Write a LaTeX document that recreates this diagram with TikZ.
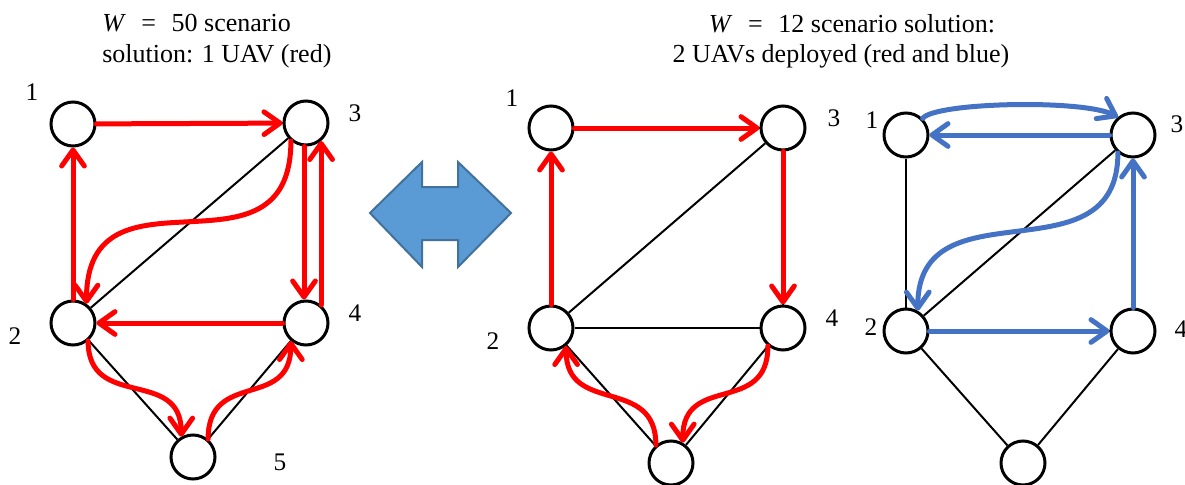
\documentclass[tikz,border=0pt]{standalone}
\usepackage{fontspec}
\setmainfont{Liberation Serif}
\usetikzlibrary{arrows.meta}
\definecolor{uavred}{RGB}{255,0,0}
\definecolor{uavblue}{RGB}{68,114,196}
\definecolor{arrfill}{RGB}{91,155,213}
\definecolor{arrdraw}{RGB}{65,113,156}
\begin{document}
\begin{tikzpicture}[x=0.75pt,y=-0.75pt,
 vtx/.style={circle,draw=black,line width=2.25pt,minimum size=33pt,inner sep=0pt,fill=white},
 edge/.style={draw=black,line width=1.5pt},
 route/.style={line width=3.75pt,line cap=round,-{Straight Barb[length=12pt,width=17pt,round]}},
 rt/.style={route,draw=uavred},
 bt/.style={route,draw=uavblue},
 lbl/.style={inner sep=0pt,font=\fontsize{19}{23}\selectfont},
 ttl/.style={inner sep=0pt,font=\fontsize{19.5}{23}\selectfont}]
\useasboundingbox (0,0) rectangle (1185,485);
% titles
\node[ttl,anchor=base west] (t1a) at (102,32) {\textit{W}\hspace{0.6em}=\hspace{0.6em}50 scenario};
\node[ttl,anchor=base west] (t1b) at (102,63) {solution: 1 UAV (red)};
\node[ttl,anchor=base] (t2a) at (852,33) {\textit{W}\hspace{0.6em}=\hspace{0.6em}12 scenario solution:};
\node[ttl,anchor=base] (t2b) at (841,63) {2 UAVs deployed (red and blue)};
% graph 1
\node[vtx] (g1n1) at (73,124) {};
\node[vtx] (g1n3) at (306,123) {};
\node[vtx] (g1n2) at (73,323) {};
\node[vtx] (g1n4) at (306,323) {};
\node[vtx] (g1n5) at (193,457) {};
\node[lbl] (g1l1) at (32,92) {1};
\node[lbl] (g1l3) at (355,113) {3};
\node[lbl] (g1l2) at (15,336) {2};
\node[lbl] (g1l4) at (355,313) {4};
\node[lbl] (g1l5) at (280,462) {5};
% graph 2
\node[vtx] (g2n1) at (551,128) {};
\node[vtx] (g2n3) at (783,128) {};
\node[vtx] (g2n2) at (551,328) {};
\node[vtx] (g2n4) at (783,328) {};
\node[vtx] (g2n5) at (671,463) {};
\node[lbl] (g2l1) at (512,98) {1};
\node[lbl] (g2l3) at (834,118) {3};
\node[lbl] (g2l2) at (493,341) {2};
\node[lbl] (g2l4) at (832,318) {4};
% graph 3
\node[vtx] (g3n1) at (906,135) {};
\node[vtx] (g3n3) at (1133,135) {};
\node[vtx] (g3n2) at (906,331) {};
\node[vtx] (g3n4) at (1133,331) {};
\node[vtx] (g3n5) at (1023,463) {};
\node[lbl] (g3l1) at (872,120) {1};
\node[lbl] (g3l3) at (1177,124) {3};
\node[lbl] (g3l2) at (871,327) {2};
\node[lbl] (g3l4) at (1181,329) {4};
% black edges
\draw[edge] (g1n1) -- (g1n3);
\draw[edge] (g1n1) -- (g1n2);
\draw[edge] (g1n3) -- (g1n2);
\draw[edge] (g1n2) -- (g1n4);
\draw[edge] (g1n2) -- (g1n5);
\draw[edge] (g1n4) -- (g1n5);
\draw[edge] (g2n1) -- (g2n3);
\draw[edge] (g2n1) -- (g2n2);
\draw[edge] (g2n3) -- (g2n4);
\draw[edge] (g2n3) -- (g2n2);
\draw[edge] (g2n2) -- (g2n4);
\draw[edge] (g2n2) -- (g2n5);
\draw[edge] (g2n4) -- (g2n5);
\draw[edge] (g3n1) -- (g3n3);
\draw[edge] (g3n1) -- (g3n2);
\draw[edge] (g3n3) -- (g3n4);
\draw[edge] (g3n3) -- (g3n2);
\draw[edge] (g3n2) -- (g3n4);
\draw[edge] (g3n2) -- (g3n5);
\draw[edge] (g3n4) -- (g3n5);
% red routes graph 1
\draw[rt] (g1n1) -- (g1n3);
\draw[rt] (g1n2) -- (g1n1);
\draw[rt] ([xshift=-1.5pt]g1n3.south) -- ([xshift=-1.5pt]g1n4.north);
\draw[rt] (g1n4.50) -- (g1n3.-50);
\draw[rt] (g1n4) -- (g1n2);
\draw[rt] (g1n3.230) .. controls +(0,150) and +(0,-150) .. (g1n2.55);
\draw[rt] (g1n2.-50) .. controls +(0,70) and +(0,-70) .. (g1n5.120);
\draw[rt] (g1n5.50) .. controls +(0,-70) and +(0,70) .. (g1n4.230);
% red routes graph 2
\draw[rt] (g2n1) -- (g2n3);
\draw[rt] (g2n2) -- (g2n1);
\draw[rt] (g2n3) -- (g2n4);
\draw[rt] (g2n4.230) .. controls +(0,70) and +(0,-70) .. (g2n5.60);
\draw[rt] (g2n5.130) .. controls +(0,-70) and +(0,70) .. (g2n2.-50);
% blue routes graph 3
\draw[bt] (g3n1.45) .. controls +(12,-16) and +(-35,-18) .. (g3n3.130);
\draw[bt] (g3n3) -- (g3n1);
\draw[bt] (g3n3.230) .. controls +(0,130) and +(0,-130) .. (g3n2.60);
\draw[bt] (g3n2) -- (g3n4);
\draw[bt] (g3n4) -- (g3n3);
% double arrow
\draw[fill=arrfill,draw=arrdraw,line width=1.5pt,line join=miter]
 (370,213) -- (422,162) -- (422,187) -- (458,187) -- (458,162) -- (511,213)
 -- (458,267) -- (458,240) -- (422,240) -- (422,267) -- cycle;
\end{tikzpicture}
\end{document}
